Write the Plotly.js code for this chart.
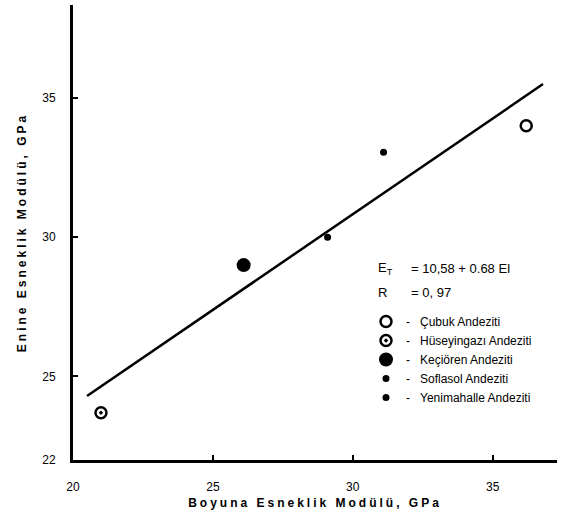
<!DOCTYPE html>
<html>
<head>
<meta charset="utf-8">
<script src="https://cdn.plot.ly/plotly-3.0.1.min.js"></script>
<style>
html, body { margin: 0; padding: 0; background: #fff; }
#chart { width: 582px; height: 524px; }
.xtitle, .ytitle { letter-spacing: 3px; }
</style>
</head>
<body>
<div id="chart"></div>
<script>
// Data
const seriesNames = ["Çubuk Andeziti", "Hüseyingazı Andeziti", "Keçiören Andeziti", "Soflasol Andeziti", "Yenimahalle Andeziti"];
const seriesX = [[36.2], [21.0], [26.1], [31.1], [29.1]];
const seriesY = [[34.0], [23.7], [29.0], [33.05], [30.0]];
const fitX = [20.5, 36.8];
const fitY = [24.3, 35.5];
const xTicks = [20, 25, 30, 35];
const yTicks = [22, 25, 30, 35];
const eqLabels = ["E<sub>T</sub>", "R"];
const eqValues = ["= 10,58 + 0.68 El", "= 0, 97"];

const markerStyles = [
  {symbol: "circle-open", size: 11, color: "#000", line: {width: 2.5, color: "#000"}},
  {symbol: "circle-open-dot", size: 11, color: "#000", line: {width: 2.5, color: "#000"}},
  {symbol: "circle", size: 14, color: "#000"},
  {symbol: "circle", size: 7, color: "#000"},
  {symbol: "circle", size: 7, color: "#000"}
];

const traces = [{
  x: fitX, y: fitY, mode: "lines", type: "scatter",
  line: {color: "#000", width: 2.5}, showlegend: false, hoverinfo: "skip"
}];
seriesNames.forEach((n, i) => {
  traces.push({
    x: seriesX[i], y: seriesY[i], name: "-\u00a0\u00a0\u00a0" + n, mode: "markers", type: "scatter",
    marker: markerStyles[i], cliponaxis: false
  });
});

const annotations = [];
eqLabels.forEach((t, i) => {
  annotations.push({xref: "paper", yref: "paper", x: (376 - 73) / 484, y: (460 - [269, 292][i]) / 455,
    text: t, showarrow: false, xanchor: "left", yanchor: "middle",
    font: {family: "Liberation Sans, Arial", size: 13, color: "#000"}});
  annotations.push({xref: "paper", yref: "paper", x: (409 - 73) / 484, y: (460 - [269, 292][i]) / 455,
    text: eqValues[i], showarrow: false, xanchor: "left", yanchor: "middle",
    font: {family: "Liberation Sans, Arial", size: 13, color: "#000"}});
});

const layout = {
  width: 582, height: 524,
  margin: {l: 73, r: 25, t: 5, b: 64},
  paper_bgcolor: "#fff", plot_bgcolor: "#fff",
  font: {family: "Liberation Sans, Arial", color: "#000", size: 12},
  showlegend: true,
  legend: {x: (366 - 73) / 484, y: (460 - 307) / 455, xanchor: "left", yanchor: "top",
    bgcolor: "rgba(0,0,0,0)", font: {size: 12, color: "#000"}, tracegroupgap: 0, itemsizing: "trace"},
  xaxis: {
    range: [20, 37.3], tickvals: xTicks, ticktext: xTicks.map(String),
    showline: true, linewidth: 3, linecolor: "#000", showgrid: false, zeroline: false,
    ticks: "inside", ticklen: 5, tickwidth: 2, tickcolor: "#000",
    ticklabelstandoff: 14, tickfont: {size: 12},
    title: {text: "Boyuna Esneklik Modülü, GPa", standoff: 6,
      font: {family: "Liberation Sans, Arial", size: 12, weight: "bold", color: "#000"}}
  },
  yaxis: {
    range: [22, 38.34], tickvals: yTicks, ticktext: yTicks.map(String),
    showline: true, linewidth: 3, linecolor: "#000", showgrid: false, zeroline: false,
    ticks: "inside", ticklen: 5, tickwidth: 2, tickcolor: "#000",
    ticklabelstandoff: 12, tickfont: {size: 12},
    title: {text: "Enine Esneklik Modülü, GPa", standoff: 14,
      font: {family: "Liberation Sans, Arial", size: 12, weight: "bold", color: "#000"}}
  },
  annotations: annotations
};

Plotly.newPlot("chart", traces, layout, {displayModeBar: false, staticPlot: true});
</script>
</body>
</html>
